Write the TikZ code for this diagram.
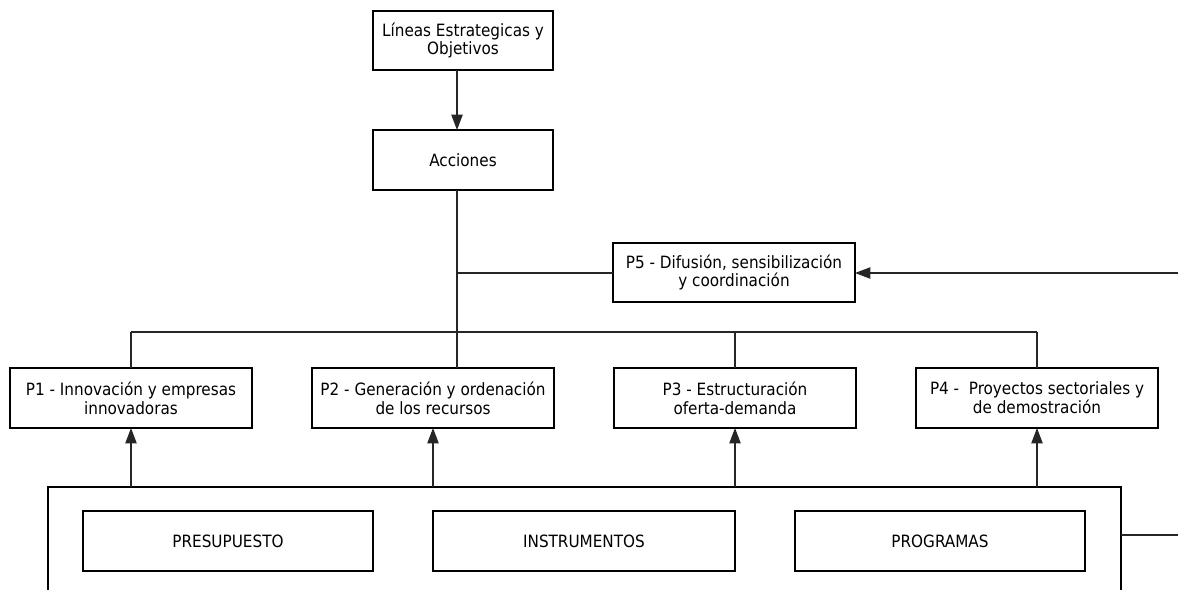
\documentclass[tikz,border=0pt]{standalone}
\usepackage{fontspec}
\setmainfont{DejaVu Sans Condensed}
\usetikzlibrary{arrows.meta}
\begin{document}
\begin{tikzpicture}[x=0.75pt,y=-0.75pt,
  box/.style={draw=black,line width=0.8pt,inner sep=0pt,outer sep=0pt,align=center,
    font=\fontsize{12.7}{14.2}\selectfont},
  pbox/.style={box,minimum width=181.5pt,minimum height=45pt},
  link/.style={draw=black!85,line width=0.8pt},
  arr/.style={link,-{Triangle[length=11.5pt,width=8.5pt]}}]
\useasboundingbox (0,0) rectangle (1178,590);
\node[box,minimum width=135pt,minimum height=44.25pt] (lin) at (463,40.5) {Líneas Estrategicas y\\Objetivos};
\node[box,minimum width=135pt,minimum height=45pt] (acc) at (463,160) {Acciones};
\node[pbox,minimum height=44.25pt] (p5) at (734,272.5) {P5 - Difusión, sensibilización\\y coordinación};
\node[pbox] (p1) at (131,398) {P1 - Innovación y empresas\\innovadoras};
\node[pbox] (p2) at (433,398) {P2 - Generación y ordenación\\de los recursos};
\node[pbox] (p3) at (735,398) {P3 - Estructuración\\oferta-demanda};
\node[pbox] (p4) at (1037,398) {P4 -\ \ Proyectos sectoriales y\\de demostración};
\node[box,minimum width=217.5pt,minimum height=45pt] (pre) at (228,541) {PRESUPUESTO};
\node[box,minimum width=226.5pt,minimum height=45pt] (ins) at (584,541) {INSTRUMENTOS};
\node[box,minimum width=217.5pt,minimum height=45pt] (pro) at (940,541) {PROGRAMAS};
% outer open frame
\coordinate (fbl) at (48,590);
\coordinate (ftl) at (48,487);
\coordinate (ftr) at (1121,487);
\coordinate (fbr) at (1121,590);
\draw[box] (fbl) -- (ftl) -- (ftr) -- (fbr);
% spine
\coordinate (s1) at (457,70);
\coordinate (s2) at (457,190);
\coordinate (s5) at (457,273);
\coordinate (busl) at (131,332);
\coordinate (busr) at (1037,332);
\draw[arr] (s1) -- (s1 |- acc.north);
\draw[link] (s2) -- (s2 |- p2.north);
\draw[link] (s5) -- (s5 -| p5.west);
\draw[link] (busl) -- (busr);
\draw[link] (busl) -- (p1.north);
\draw[link] (p3.north |- busl) -- (p3.north);
\draw[link] (busr) -- (p4.north);
\coordinate (rin) at (1178,273);
\draw[arr] (rin) -- (rin -| p5.east);
\foreach \p in {p1,p2,p3,p4} \draw[arr] (\p.south |- ftl) -- (\p.south);
\coordinate (rout) at (1178,535);
\draw[link] (rout -| ftr) -- (rout);
\end{tikzpicture}
\end{document}
